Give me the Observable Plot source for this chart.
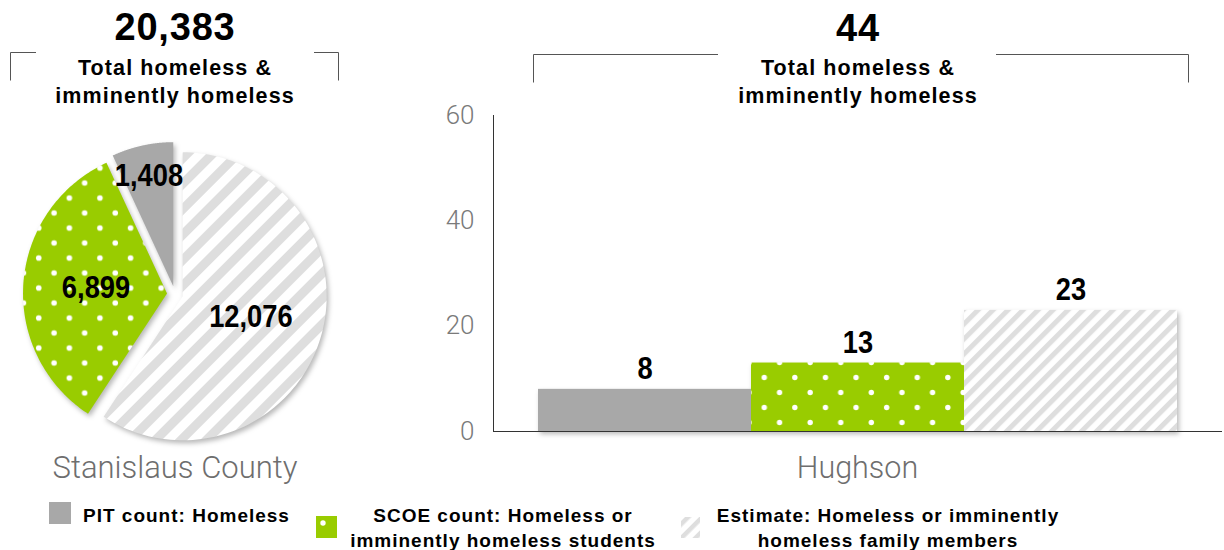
<!DOCTYPE html>
<html><head><meta charset="utf-8">
<script src="https://cdn.jsdelivr.net/npm/d3@7"></script>
<script src="https://cdn.jsdelivr.net/npm/@observablehq/plot@0.6"></script>
<style>
html,body{margin:0;padding:0;background:#fff;}
#wrap{position:relative;width:1224px;height:550px;overflow:hidden;background:#fff;}
#wrap > *{position:absolute;}
</style></head><body><div id="wrap"></div>
<script>
// ---------- data ----------
const seriesKeys = ["pit", "scoe", "estimate"];
const regions = ["Stanislaus County", "Hughson"];
const countyValues = [1408, 6899, 12076];
const hughsonValues = [8, 13, 23];
const totals = [20383, 44];
const yTicks = [0, 20, 40, 60];
const totalLines = ["Total homeless &", "imminently homeless"];
const legendLines = [
  ["PIT count: Homeless"],
  ["SCOE count: Homeless or", "imminently homeless students"],
  ["Estimate: Homeless or imminently", "homeless family members"]
];

const NS = "http://www.w3.org/2000/svg";
const wrap = document.getElementById("wrap");
const HEAD = "'Liberation Sans', Arial, Helvetica, sans-serif";
const LIGHT = "Roboto, 'Liberation Sans', sans-serif";
const GRAY = "#a8a8a8", GREEN = "#99cc00", STRIPE = "#dedede";

// condense bold value labels (no narrow font installed)
function condense(svg, factor) {
  svg.querySelectorAll('g[aria-label="text"] text').forEach(t => {
    if (t.closest('g[aria-label="y-axis tick label"]')) return;
    const w = t.getComputedTextLength();
    t.setAttribute("textLength", (w * factor).toFixed(1));
    t.setAttribute("lengthAdjust", "spacingAndGlyphs");
  });
}

// ---------- pie (Stanislaus County) ----------
const pieW = 350, pieH = 330, pcx = 174.5, pcy = 163.5, R = 144;
const pieOrder = [2, 1, 0];
const pieInput = pieOrder.map(i => ({key: seriesKeys[i], value: countyValues[i]}));
const arcs = d3.pie().sort(null).value(d => d.value)(pieInput);
const explode = 8 / R;
const piePts = [], pieLabels = [];
const total = d3.sum(countyValues);
arcs.forEach(a => {
  const key = a.data.key;
  const mid = (a.startAngle + a.endAngle) / 2;
  const ox = explode * Math.sin(mid), oy = explode * Math.cos(mid);
  piePts.push({key, x: ox, y: oy});
  const n = 120;
  for (let k = 0; k <= n; k++) {
    const t = a.startAngle + (a.endAngle - a.startAngle) * k / n;
    piePts.push({key, x: ox + Math.sin(t), y: oy + Math.cos(t)});
  }
  const lr = a.data.value / total < 0.1 ? 0.84 : 0.55;
  pieLabels.push({x: lr * Math.sin(mid), y: lr * Math.cos(mid), text: d3.format(",")(a.data.value)});
});

const pie = Plot.plot({
  width: pieW, height: pieH, margin: 0,
  x: {domain: [-pcx / R, (pieW - pcx) / R], axis: null},
  y: {domain: [-(pieH - pcy) / R, pcy / R], axis: null},
  color: {domain: seriesKeys, range: [GRAY, "url(#dotsPie)", "url(#stripesPie)"]},
  marks: [
    Plot.line(piePts, {x: "x", y: "y", z: "key", fill: "key", stroke: "none"}),
    Plot.text(pieLabels, {x: "x", y: "y", text: "text", fontSize: 31, fontWeight: "bold", fontFamily: HEAD, fill: "#000"})
  ]
});
pie.style.left = "0px"; pie.style.top = "130px";
pie.querySelectorAll('g[aria-label="line"]').forEach(g => g.style.filter = "drop-shadow(2px 3px 2.5px rgba(0,0,0,0.28))");
wrap.appendChild(pie);
condense(pie, 0.88);

// ---------- bars (Hughson) ----------
const barData = seriesKeys.map((k, i) => ({key: k, region: regions[1], value: hughsonValues[i]}));
const bar = Plot.plot({
  width: 804, height: 400, marginLeft: 73, marginRight: 2, marginTop: 15, marginBottom: 69,
  style: {fontFamily: LIGHT},
  x: {domain: seriesKeys, padding: 0, insetLeft: 44, insetRight: 45, axis: null},
  y: {domain: [0, 60], axis: null},
  color: {domain: seriesKeys, range: [GRAY, "url(#dotsBar)", "url(#stripesBar)"]},
  marks: [
    Plot.barY(barData, {x: "key", y: "value", fill: "key"}),
    Plot.axisY({ticks: yTicks, tickSize: 0, tickPadding: 19, fontSize: 26, fontWeight: 300, fontFamily: LIGHT, color: "#7a7a7a", label: null}),
    Plot.ruleY([0], {stroke: "#333", strokeWidth: 1}),
    Plot.frame({anchor: "left", stroke: "#333", strokeWidth: 1}),
    Plot.text(barData, {x: "key", y: "value", text: d => String(d.value), dy: -10, lineAnchor: "bottom", fontSize: 31, fontWeight: "bold", fontFamily: HEAD, fill: "#000"}),
  ]
});
bar.style.left = "420px"; bar.style.top = "100px";
bar.querySelectorAll('g[aria-label="bar"]').forEach(g => g.style.filter = "drop-shadow(2px 3px 2.5px rgba(0,0,0,0.28))");
wrap.appendChild(bar);
condense(bar, 0.88);

// ---------- overlay: patterns, titles, brackets, legend ----------
const ov = document.createElementNS(NS, "svg");
ov.setAttribute("width", 1224); ov.setAttribute("height", 550);
ov.style.left = "0px"; ov.style.top = "0px"; ov.style.pointerEvents = "none";
wrap.appendChild(ov);
function el(name, attrs, parent = ov, text) {
  const e = document.createElementNS(NS, name);
  for (const k in attrs) e.setAttribute(k, attrs[k]);
  if (text != null) e.textContent = text;
  parent.appendChild(e);
  return e;
}
const defs = el("defs", {});
function stripes(id, period, gray, angle) {
  const p = el("pattern", {id, patternUnits: "userSpaceOnUse", width: period, height: period, patternTransform: `rotate(${angle})`}, defs);
  el("rect", {x: 0, y: 0, width: period, height: period, fill: "#fff"}, p);
  el("rect", {x: 0, y: 0, width: gray, height: period, fill: STRIPE}, p);
}
function dots(id, w, h, r) {
  const p = el("pattern", {id, patternUnits: "userSpaceOnUse", width: w, height: h}, defs);
  el("rect", {x: 0, y: 0, width: w, height: h, fill: GREEN}, p);
  el("circle", {cx: w / 4, cy: h / 4, r, fill: "#fff"}, p);
  el("circle", {cx: 3 * w / 4, cy: 3 * h / 4, r, fill: "#fff"}, p);
}
stripes("stripesPie", 18, 9, 45);
stripes("stripesBar", 10.6, 5, 45);
stripes("stripesLegend", 10, 4.5, 45);
dots("dotsPie", 30.6, 30, 2.8);
dots("dotsBar", 30.6, 30, 2.7);

const fmt = d3.format(",");
function title(cx, numBase, value, bx0, bx1, by, gapL, gapR) {
  el("text", {x: cx, y: numBase, "text-anchor": "middle", "font-family": HEAD, "font-weight": "bold", "font-size": 38, "letter-spacing": 0.8, fill: "#000"}, ov, fmt(value));
  totalLines.forEach((t, i) => el("text", {x: cx, y: 75 + i * 28, "text-anchor": "middle", "font-family": HEAD, "font-weight": "bold", "font-size": 21.5, "letter-spacing": 1.1, fill: "#000"}, ov, t));
  el("polyline", {points: `${bx0},${by + 28} ${bx0},${by} ${gapL},${by}`, fill: "none", stroke: "#555", "stroke-width": 1}, ov);
  el("polyline", {points: `${gapR},${by} ${bx1},${by} ${bx1},${by + 28}`, fill: "none", stroke: "#555", "stroke-width": 1}, ov);
}
title(175, 40, totals[0], 10.5, 338.5, 52.5, 36, 314);
title(858, 41, totals[1], 533.5, 1188.5, 54.5, 718, 996);

// category labels
el("text", {x: 175, y: 478, "text-anchor": "middle", "font-family": LIGHT, "font-weight": 300, "font-size": 31, fill: "#6e6e6e"}, ov, regions[0]);
el("text", {x: 857.5, y: 478, "text-anchor": "middle", "font-family": LIGHT, "font-weight": 300, "font-size": 30.5, fill: "#6e6e6e"}, ov, regions[1]);

// legend
const LEG = {"font-family": HEAD, "font-weight": "bold", "font-size": 19, "letter-spacing": 1.0, fill: "#000"};
el("rect", {x: 49, y: 502, width: 22, height: 22, fill: GRAY}, ov);
el("text", {...LEG, x: 83, y: 522}, ov, legendLines[0][0]);
el("rect", {x: 316, y: 516, width: 21, height: 22, fill: GREEN}, ov);
el("circle", {cx: 323, cy: 523, r: 2.7, fill: "#fff"}, ov);
legendLines[1].forEach((t, i) => el("text", {...LEG, x: 503, y: 522 + i * 25, "text-anchor": "middle"}, ov, t));
el("rect", {x: 681, y: 517, width: 19, height: 21, fill: "url(#stripesLegend)"}, ov);
legendLines[2].forEach((t, i) => el("text", {...LEG, x: 888, y: 522 + i * 25, "text-anchor": "middle"}, ov, t));
</script></body></html>
